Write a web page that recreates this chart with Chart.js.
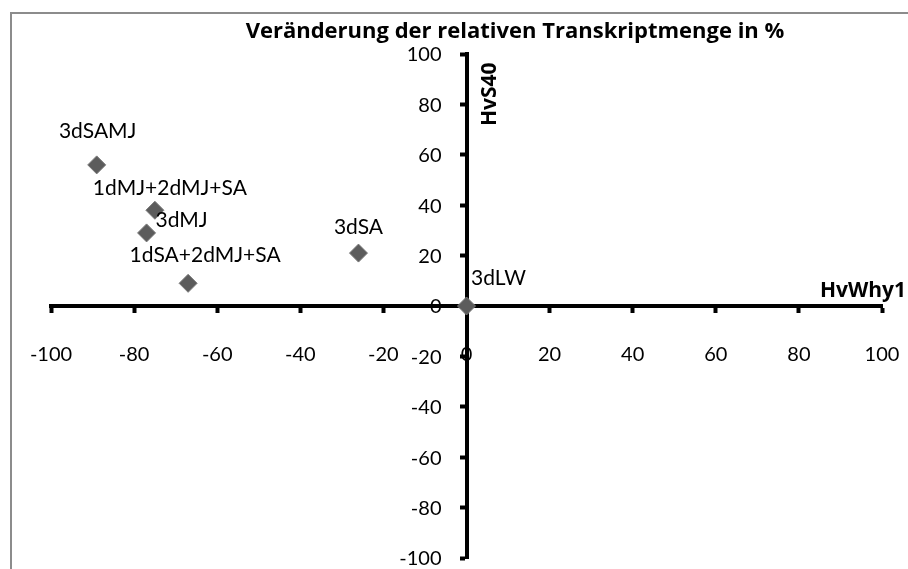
<!DOCTYPE html>
<html>
<head>
<meta charset="utf-8">
<script src="https://cdn.jsdelivr.net/npm/chart.js@4.4.0/dist/chart.umd.min.js"></script>
<style>
html, body { margin: 0; padding: 0; background: #fff; }
canvas { display: block; }
</style>
</head>
<body>
<canvas id="myChart" width="908" height="569"></canvas>
<script>
// Behandlungen und Werte (Veraenderung in %)
var treatments = ['3dSAMJ', '1dMJ+2dMJ+SA', '3dMJ', '1dSA+2dMJ+SA', '3dSA', '3dLW']
var hvWhy1 = [-89, -75, -77, -67, -26, 0]
var hvS40 = [56, 38, 29, 9, 21, 0]
var axisTicks = [-100, -80, -60, -40, -20, 0, 20, 40, 60, 80, 100]

var chartTitle = 'Veränderung der relativen Transkriptmenge in %'
var xTitle = 'HvWhy1'
var yTitle = 'HvS40'

// label offsets in px (wie im Original verschoben)
var labelOffsets = [[1, -34], [15, -22], [35, -13], [17, -28], [0, -26], [32, -28]]

var FONT = 'Lato'
var BOLD_FONT = '"Open Sans"'

function zeroFit(s) {
    if (s.isHorizontal()) s.height = 0
    else s.width = 0
    s.paddingTop = 0
    s.paddingBottom = 0
    s.paddingLeft = 0
    s.paddingRight = 0
}

var extras = {
    id: 'extras',
    beforeDraw: function (chart) {
        var ctx = chart.ctx
        ctx.save()
        ctx.fillStyle = '#fff'
        ctx.fillRect(0, 0, chart.width, chart.height)
        ctx.strokeStyle = '#8c8c8c'
        ctx.lineWidth = 2
        ctx.beginPath()
        ctx.moveTo(11, chart.height)
        ctx.lineTo(11, 13)
        ctx.lineTo(chart.width, 13)
        ctx.stroke()
        ctx.restore()
    },
    beforeDatasetsDraw: function (chart) {
        // y tick labels links neben der Achse (bei x = 0)
        var ctx = chart.ctx
        var xs = chart.scales.x
        var ys = chart.scales.y
        var ax = xs.getPixelForValue(0)
        ctx.save()
        ctx.font = '20px ' + FONT
        ctx.fillStyle = '#000'
        ctx.textAlign = 'right'
        ctx.textBaseline = 'middle'
        ys.ticks.forEach(function (t) {
            ctx.fillText(String(t.value), ax - 25, ys.getPixelForValue(t.value) + 1)
        })
        ctx.restore()
    },
    afterDatasetsDraw: function (chart) {
        var ctx = chart.ctx
        var meta = chart.getDatasetMeta(0)
        ctx.save()
        ctx.font = '21px ' + FONT
        ctx.fillStyle = '#000'
        ctx.textAlign = 'center'
        ctx.textBaseline = 'middle'
        meta.data.forEach(function (pt, i) {
            ctx.fillText(treatments[i], pt.x + labelOffsets[i][0], pt.y + labelOffsets[i][1])
        })
        ctx.restore()
    },
    afterDraw: function (chart) {
        var ctx = chart.ctx
        var xs = chart.scales.x
        var ys = chart.scales.y
        ctx.save()
        ctx.fillStyle = '#000'
        ctx.font = 'bold 22px ' + BOLD_FONT
        ctx.textAlign = 'center'
        ctx.textBaseline = 'middle'
        ctx.fillText(chartTitle, 515, 32)

        ctx.font = 'bold 21px ' + BOLD_FONT
        ctx.textAlign = 'right'
        ctx.fillText(xTitle, xs.right + 24, ys.getPixelForValue(0) - 15)

        ctx.translate(xs.getPixelForValue(0) + 24, ys.getPixelForValue(84))
        ctx.rotate(-Math.PI / 2)
        ctx.textAlign = 'center'
        ctx.fillText(yTitle, 0, 0)
        ctx.restore()
    }
}

var ctx = document.getElementById('myChart').getContext('2d')
var chart = new Chart(ctx, {
    type: 'scatter',
    data: {
        datasets: [{
            label: 'Transkriptmenge',
            data: hvWhy1.map(function (x, i) { return { x: x, y: hvS40[i] } }),
            pointStyle: 'rectRot',
            pointRadius: 9,
            pointHoverRadius: 9,
            backgroundColor: '#5c5c5c',
            borderColor: '#7a7a7a',
            borderWidth: 1
        }]
    },
    options: {
        responsive: false,
        animation: false,
        devicePixelRatio: 1,
        layout: {
            padding: { left: 51, right: 26, top: 54, bottom: 11 }
        },
        plugins: {
            legend: { display: false },
            title: { display: false },
            tooltip: { enabled: false }
        },
        scales: {
            x: {
                type: 'linear',
                position: { y: 0 },
                min: -100,
                max: 100,
                afterBuildTicks: function (s) { s.ticks = axisTicks.map(function (v) { return { value: v } }) },
                afterFit: zeroFit,
                border: { color: '#000', width: 4 },
                grid: { drawOnChartArea: false, drawTicks: true, tickLength: 5, tickWidth: 4, tickColor: '#000' },
                ticks: { font: { family: FONT, size: 20 }, color: '#000', padding: 32, maxRotation: 0 }
            },
            y: {
                type: 'linear',
                position: { x: 0 },
                min: -100,
                max: 100,
                afterBuildTicks: function (s) { s.ticks = axisTicks.map(function (v) { return { value: v } }) },
                afterFit: zeroFit,
                border: { color: '#000', width: 4 },
                grid: { drawOnChartArea: false, drawTicks: true, tickLength: 5, tickWidth: 4, tickColor: '#000' },
                ticks: { display: false }
            }
        }
    },
    plugins: [extras]
})
</script>
</body>
</html>
